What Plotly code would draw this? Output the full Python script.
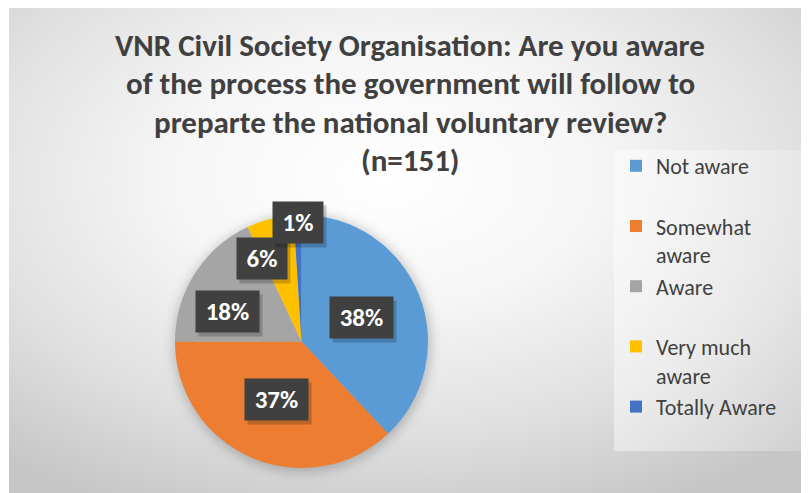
import base64
import math
import plotly.graph_objects as go

# ---- data ----
CATEGORIES = ["Not aware", "Somewhat aware", "Aware", "Very much aware", "Totally Aware"]
LEGEND_LABELS = ["Not aware<br> ", "Somewhat<br>aware", "Aware<br> ", "Very much<br>aware", "Totally Aware"]
PERCENTS = [38, 37, 18, 6, 1]
COLORS = ["#5B9BD5", "#ED7D31", "#A5A5A5", "#FFC000", "#4472C4"]
TITLE_LINES = [
    "VNR Civil Society Organisation: Are you aware",
    "of the process the government will follow to",
    "preparte the national voluntary review?",
    "(n=151)",
]

# label placement styles (fraction of radius, angle tweak in degrees)
LABEL_RADIUS = [0.51, 0.50, 0.63, 0.73, 0.94]
LABEL_ANGLE_SHIFT = [0, 0, -10, -11, 0]
BOX_W = {3: 47, 2: 34}   # inner label box width by text length
BOX_H = 25
BOX_PAD = 8

# page offset (browser body margin) and figure size
OX, OY = 8, 8
W, H = 809 - OX, 493 - OY
FONT = "Carlito, Calibri, Lato, sans-serif"
TEXT_COLOR = "#404040"


def px(x):
    return (x - OX) / W


def py(y):
    return (H - (y - OY)) / H


# pie domain (paper coords)
DOM_X = [px(175), px(428)]
DOM_Y = [py(468), py(215)]

cx = (DOM_X[0] + DOM_X[1]) / 2
cy = (DOM_Y[0] + DOM_Y[1]) / 2
r_px = min((DOM_X[1] - DOM_X[0]) * W, (DOM_Y[1] - DOM_Y[0]) * H) / 2
pcx, pcy = cx * W, (1 - cy) * H  # pie centre in figure pixels

# ---- background svg (chart area gradient + legend panel + pie shadow) ----
svg = f"""<svg xmlns='http://www.w3.org/2000/svg' width='{W}' height='{H}' viewBox='0 0 {W} {H}' preserveAspectRatio='none'>
<defs>
<radialGradient id='g' cx='0.47' cy='0.35' r='0.75'>
<stop offset='0' stop-color='#ffffff'/>
<stop offset='0.35' stop-color='#f6f6f6'/>
<stop offset='0.7' stop-color='#e0e0e0'/>
<stop offset='1' stop-color='#c6c6c6'/>
</radialGradient>
<linearGradient id='lg' x1='0' y1='0' x2='1' y2='0'>
<stop offset='0' stop-color='#ffffff' stop-opacity='0.45'/>
<stop offset='1' stop-color='#ffffff' stop-opacity='0.2'/>
</linearGradient>
<filter id='blur' x='-20%' y='-20%' width='140%' height='140%'>
<feGaussianBlur stdDeviation='6'/>
</filter>
</defs>
<rect x='0' y='0' width='{W}' height='{H}' fill='#ffffff'/>
<rect x='1' y='0' width='{W-1}' height='{H}' fill='url(#g)'/>
<rect x='{614-OX}' y='{150-OY}' width='{809-614}' height='{451-150}' fill='url(#lg)'/>
<circle cx='{pcx+1:.1f}' cy='{pcy+2:.1f}' r='{r_px+2:.1f}' fill='#000000' fill-opacity='0.22' filter='url(#blur)'/>
</svg>"""
svg_uri = "data:image/svg+xml;base64," + base64.b64encode(svg.encode()).decode()

fig = go.Figure()
fig.add_trace(go.Pie(
    labels=LEGEND_LABELS,
    values=PERCENTS,
    marker=dict(colors=COLORS, line=dict(width=0)),
    sort=False,
    direction="clockwise",
    rotation=0,
    textinfo="none",
    hoverinfo="label+percent",
    domain=dict(x=DOM_X, y=DOM_Y),
))

# ---- data labels in boxes, positioned from the values ----
total = sum(PERCENTS)
cum = 0.0
annotations = []
for v, rf, shift in zip(PERCENTS, LABEL_RADIUS, LABEL_ANGLE_SHIFT):
    mid = (cum + v / 2) / total * 360 + shift
    cum += v
    th = math.radians(mid)
    xp = cx + rf * r_px * math.sin(th) / W
    yp = cy + rf * r_px * math.cos(th) / H
    txt = f"{v}%"
    bw = BOX_W.get(len(txt), 47)
    # soft shadow (empty box)
    annotations.append(dict(
        x=xp, y=yp, xref="paper", yref="paper", text="&nbsp;", showarrow=False,
        xanchor="center", yanchor="middle", width=bw, height=BOX_H,
        font=dict(family=FONT, size=10, color="rgba(0,0,0,0)"),
        bgcolor="rgba(0,0,0,0.2)", borderpad=BOX_PAD, xshift=3, yshift=-4,
    ))
    annotations.append(dict(
        x=xp, y=yp, xref="paper", yref="paper", text=f"<b>{txt}</b>", showarrow=False,
        xanchor="center", yanchor="middle", width=bw, height=BOX_H,
        font=dict(family=FONT, size=25, color="#ffffff"),
        bgcolor="#404040", borderpad=BOX_PAD,
    ))

# ---- title lines ----
TITLE_Y = [45, 83, 122, 160]
for line, ty in zip(TITLE_LINES, TITLE_Y):
    annotations.append(dict(
        x=px(410), y=py(ty), xref="paper", yref="paper",
        text=f"<b>{line}</b>", showarrow=False, xanchor="center", yanchor="middle",
        font=dict(family=FONT, size=31, color=TEXT_COLOR),
    ))

fig.update_layout(
    width=W, height=H,
    margin=dict(l=0, r=0, t=0, b=0),
    paper_bgcolor="#ffffff",
    plot_bgcolor="rgba(0,0,0,0)",
    images=[dict(source=svg_uri, xref="paper", yref="paper", x=0, y=1,
                 sizex=1, sizey=1, sizing="stretch", xanchor="left", yanchor="top",
                 layer="below")],
    showlegend=True,
    legend=dict(
        x=px(616), y=py(145), xanchor="left", yanchor="top",
        font=dict(family=FONT, size=22, color=TEXT_COLOR),
        bgcolor="rgba(0,0,0,0)", valign="top", traceorder="normal",
    ),
    annotations=annotations,
)

fig.write_html("out.html")
